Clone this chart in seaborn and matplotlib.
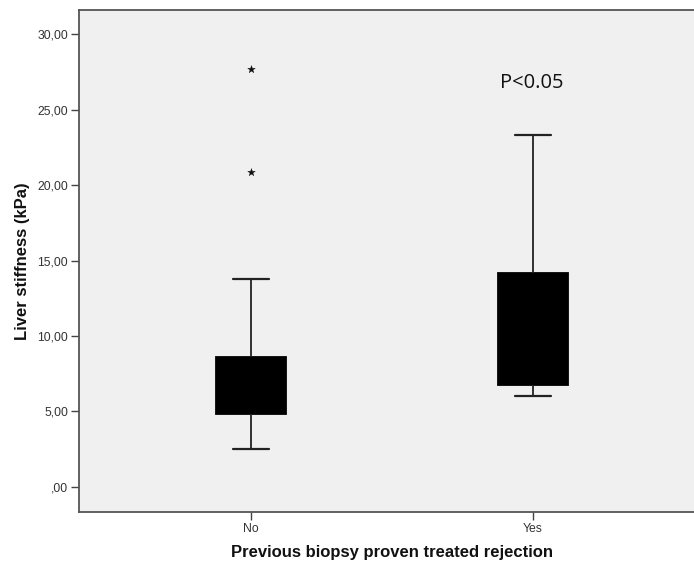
import matplotlib
matplotlib.use("Agg")
import matplotlib.pyplot as plt
import seaborn as sns
import pandas as pd
from matplotlib.ticker import FixedLocator, FuncFormatter

# Five-number summaries per group (whisker low, Q1, median, Q3, whisker high)
groups = ["No", "Yes"]
no_summary = [2.52, 4.84, 6.30, 8.63, 13.80]
yes_summary = [6.04, 6.77, 9.50, 14.20, 23.30]

# Extreme values flagged beyond the whiskers
extreme_group = ["No", "No"]
extreme_values = [20.85, 27.67]

y_ticks = [0, 5, 10, 15, 20, 25, 30]

df = pd.DataFrame({
    "group": ["No"] * len(no_summary) + ["Yes"] * len(yes_summary),
    "stiffness": no_summary + yes_summary,
})
extremes = pd.DataFrame({"group": extreme_group, "stiffness": extreme_values})

sns.set_style("white")
plt.rcParams["font.family"] = ["Liberation Sans", "DejaVu Sans"]

fig = plt.figure(figsize=(6.94, 5.65), dpi=100)
ax = fig.add_axes([79 / 694, 53 / 565, 626 / 694, 502 / 565])
ax.set_facecolor("#f0f0f0")

sns.boxplot(
    data=df, x="group", y="stiffness", order=groups, ax=ax,
    width=0.25, color="black", linecolor="black", linewidth=1.3,
    fill=True, showfliers=False, whis=10,
    boxprops=dict(facecolor="black", edgecolor="black"),
    whiskerprops=dict(color="#222222", linewidth=1.3),
    capprops=dict(color="#222222", linewidth=1.6),
    medianprops=dict(color="black"),
)

sns.scatterplot(
    data=extremes, x="group", y="stiffness", ax=ax,
    marker="*", s=32, color="#111111", edgecolor="#111111", linewidth=0.3,
    zorder=5, legend=False,
)

# Widen the whisker caps to half the box width
for line in ax.lines:
    xd = list(line.get_xdata())
    yd = list(line.get_ydata())
    if len(xd) == 2 and yd[0] == yd[1] and 0 < abs(xd[1] - xd[0]) < 0.2:
        c = (xd[0] + xd[1]) / 2
        line.set_xdata([c - 0.064, c + 0.064])

ax.set_xlim(-0.61, 1.61)
ax.set_ylim(-1.66, 31.6)
ax.yaxis.set_major_locator(FixedLocator(y_ticks))


def comma_fmt(v, pos):
    s = f"{v:.2f}".replace(".", ",")
    return s[1:] if s.startswith("0,") else s


ax.yaxis.set_major_formatter(FuncFormatter(comma_fmt))

ax.tick_params(axis="both", which="major", direction="out", length=6,
               width=1.0, color="#444444", labelsize=8.8, labelcolor="#333333",
               left=True, bottom=True, pad=2)
for side, sp in ax.spines.items():
    sp.set_visible(True)
    sp.set_color("#555555")
    sp.set_linewidth(1.3)

ax.set_xlabel("Previous biopsy proven treated rejection", fontsize=12,
              fontweight="bold", color="#111111", labelpad=7)
ax.set_ylabel("Liver stiffness (kPa)", fontsize=12, fontweight="bold",
              color="#111111", labelpad=5)

ax.text(0.995, 26.75, "P<0.05", ha="center", va="center", fontsize=14.5,
        family=["Open Sans", "DejaVu Sans"], color="#111111")

fig.savefig("out.png", dpi=100)
